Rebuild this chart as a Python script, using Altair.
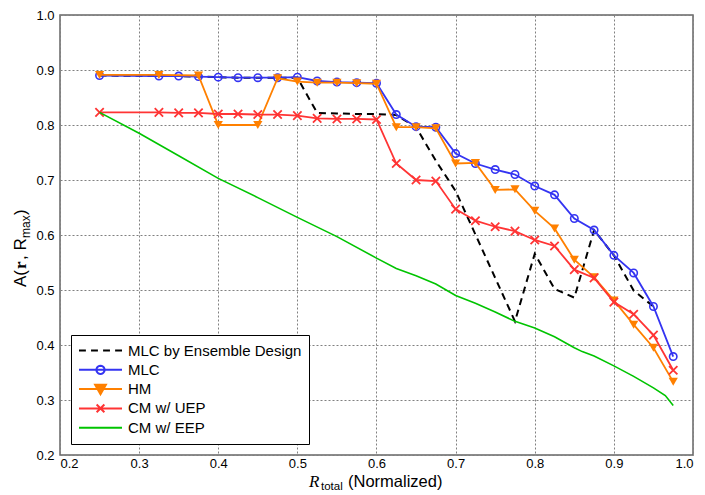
import math
import altair as alt
import pandas as pd

# ---------------- data ----------------
SERIES = ["MLC by Ensemble Design", "MLC", "HM", "CM w/ UEP", "CM w/ EEP"]
COLORS = ["#000000", "#3434f2", "#ff8000", "#ff3434", "#00c400"]

ens_x = [0.25, 0.325, 0.35, 0.375, 0.4, 0.425, 0.45, 0.475, 0.5, 0.525, 0.55, 0.575, 0.6,
         0.625, 0.65, 0.675, 0.7, 0.775, 0.8, 0.825, 0.85, 0.875, 0.9, 0.925, 0.95]
ens_y = [0.890, 0.889, 0.889, 0.888, 0.887, 0.886, 0.886, 0.886, 0.886, 0.822, 0.821, 0.820, 0.820,
         0.818, 0.796, 0.735, 0.680, 0.443, 0.566, 0.502, 0.486, 0.609, 0.563, 0.499, 0.470]

mlc_x = [0.25, 0.325, 0.35, 0.375, 0.4, 0.425, 0.45, 0.475, 0.5, 0.525, 0.55, 0.575, 0.6,
         0.625, 0.65, 0.675, 0.7, 0.725, 0.75, 0.775, 0.8, 0.825, 0.85, 0.875, 0.9, 0.925, 0.95, 0.975]
mlc_y = [0.890, 0.889, 0.889, 0.888, 0.887, 0.886, 0.886, 0.886, 0.887, 0.880, 0.878, 0.877, 0.876,
         0.819, 0.797, 0.796, 0.748, 0.730, 0.719, 0.710, 0.689, 0.673, 0.630, 0.609, 0.563, 0.531, 0.470, 0.379]

hm_x = [0.25, 0.325, 0.375, 0.4, 0.45, 0.475, 0.5, 0.525, 0.55, 0.575, 0.6,
        0.625, 0.65, 0.675, 0.7, 0.725, 0.75, 0.775, 0.8, 0.825, 0.85, 0.875, 0.9, 0.925, 0.95, 0.975]
hm_y = [0.891, 0.891, 0.890, 0.800, 0.800, 0.885, 0.879, 0.877, 0.877, 0.876, 0.875,
        0.796, 0.796, 0.794, 0.730, 0.731, 0.682, 0.683, 0.644, 0.612, 0.555, 0.523, 0.481, 0.437, 0.395, 0.333]

uep_x = [0.25, 0.325, 0.35, 0.375, 0.4, 0.425, 0.45, 0.475, 0.5, 0.525, 0.55, 0.575, 0.6,
         0.625, 0.65, 0.675, 0.7, 0.725, 0.75, 0.775, 0.8, 0.825, 0.85, 0.875, 0.9, 0.925, 0.95, 0.975]
uep_y = [0.823, 0.823, 0.822, 0.822, 0.820, 0.820, 0.819, 0.819, 0.817, 0.812, 0.811, 0.811, 0.810,
         0.730, 0.700, 0.698, 0.647, 0.626, 0.615, 0.607, 0.591, 0.580, 0.537, 0.522, 0.478, 0.456, 0.418, 0.354]

eep_x = [0.25, 0.3, 0.35, 0.4, 0.45, 0.5, 0.55, 0.6, 0.625, 0.65, 0.675, 0.7, 0.725, 0.75,
         0.775, 0.8, 0.825, 0.85, 0.86, 0.875, 0.9, 0.925, 0.95, 0.965, 0.975]
eep_y = [0.823, 0.785, 0.744, 0.703, 0.668, 0.632, 0.597, 0.558, 0.539, 0.526, 0.511, 0.490, 0.476, 0.460,
         0.443, 0.431, 0.415, 0.395, 0.388, 0.380, 0.362, 0.343, 0.322, 0.308, 0.290]

x_ticks = [0.2, 0.3, 0.4, 0.5, 0.6, 0.7, 0.8, 0.9, 1.0]
y_ticks = [0.2, 0.3, 0.4, 0.5, 0.6, 0.7, 0.8, 0.9, 1.0]

rows = []
for name, xs, ys in [(SERIES[0], ens_x, ens_y), (SERIES[1], mlc_x, mlc_y), (SERIES[2], hm_x, hm_y),
                     (SERIES[3], uep_x, uep_y), (SERIES[4], eep_x, eep_y)]:
    for a, b in zip(xs, ys):
        rows.append({"x": a, "y": b, "series": name})
df = pd.DataFrame(rows)

# ---------------- legend symbol paths (unit square, scaled by symbolSize) ----------------
def circle_path(r, n=20):
    pts = [(r * math.cos(2 * math.pi * k / n), r * math.sin(2 * math.pi * k / n)) for k in range(n)]
    return "M" + "L".join(f"{p:.3f},{q:.3f}" for p, q in pts) + "Z"

P_DASH = "M-1,0H-0.68M-0.44,0H-0.12M0.12,0H0.44M0.68,0H1"
P_MLC = "M-1,0H1" + circle_path(0.19)
P_HM = "M-1,0H1M-0.25,-0.2L0.25,-0.2L0,0.24Z"
P_UEP = "M-1,0H1M-0.18,-0.18L0.18,0.18M-0.18,0.18L0.18,-0.18"
P_EEP = "M-1,0H1"
PATHS = [P_DASH, P_MLC, P_HM, P_UEP, P_EEP]
FILLS = ["transparent", "transparent", "#ff8000", "transparent", "transparent"]

FONT = "Liberation Sans"

X = alt.X("x:Q", scale=alt.Scale(domain=[0.2, 1.0], nice=False),
          axis=alt.Axis(values=x_ticks, format=".1f", title=None, labelPadding=2))
Y = alt.Y("y:Q", scale=alt.Scale(domain=[0.2, 1.0], nice=False),
          axis=alt.Axis(values=y_ticks, format=".1f", title=None, labelPadding=6))

base = alt.Chart(df)
layers = []

line_styles = {
    SERIES[0]: dict(strokeWidth=2, strokeDash=[7, 5]),
    SERIES[1]: dict(strokeWidth=1.8),
    SERIES[2]: dict(strokeWidth=1.8),
    SERIES[3]: dict(strokeWidth=1.8),
    SERIES[4]: dict(strokeWidth=1.6),
}
for s, c in zip(SERIES, COLORS):
    sub = base.transform_filter(alt.datum.series == s)
    layers.append(sub.mark_line(color=c, **line_styles[s]).encode(x=X, y=Y))
    if s == "MLC":
        layers.append(sub.mark_point(shape="circle", size=55, strokeWidth=1.6, filled=False,
                                     opacity=1, color=c).encode(x=X, y=Y))
    elif s == "HM":
        layers.append(sub.mark_point(shape="triangle-down", size=85, filled=True,
                                     opacity=1, color=c).encode(x=X, y=Y))
    elif s == "CM w/ UEP":
        layers.append(sub.mark_point(shape="M-1,-1L1,1M-1,1L1,-1", size=70, strokeWidth=1.8,
                                     filled=False, opacity=1, color=c).encode(x=X, y=Y))

legend = alt.Legend(
    orient="none", legendX=11, legendY=320, title=None, padding=7,
    fillColor="white", strokeColor="black", cornerRadius=0,
    labelFont=FONT, labelFontSize=15, labelColor="black", labelLimit=400, labelOffset=5,
    symbolSize=1849, symbolStrokeWidth=2, symbolOpacity=1, clipHeight=17, rowPadding=2.3,
)
legend_df = pd.DataFrame({"series": SERIES, "x": [0.5] * 5, "y": [0.5] * 5})
legend_layer = alt.Chart(legend_df).transform_filter("datum.x > 5").mark_point(
    size=1849, opacity=1).encode(
    x=X, y=Y,
    shape=alt.Shape("series:N", scale=alt.Scale(domain=SERIES, range=PATHS), legend=legend),
    stroke=alt.Stroke("series:N", scale=alt.Scale(domain=SERIES, range=COLORS), legend=legend),
    fill=alt.Fill("series:N", scale=alt.Scale(domain=SERIES, range=FILLS), legend=legend),
)
layers.append(legend_layer)

# ---------------- axis titles as text pieces ----------------
def txt(label, px, py, size, font=FONT, style="normal", weight="normal", angle=0):
    kw = dict(align="left", baseline="alphabetic", fontSize=size, font=font,
              fontStyle=style, fontWeight=weight, color="black")
    if angle:
        kw["angle"] = angle
    return alt.Chart(pd.DataFrame({"t": [label]})).mark_text(**kw).encode(
        text="t:N", x=alt.value(px), y=alt.value(py))

# x title (plot-relative coords: origin at (60,15))
layers.append(txt("R", 249, 472, 17, font="Liberation Serif", style="italic"))
layers.append(txt("total", 261, 475, 11.5))
layers.append(txt("(Normalized)", 288, 472, 16.5))
# y title, rotated
layers.append(txt("A(", -34, 272, 17, angle=270))
layers.append(txt("r", -34, 254, 17, font="Liberation Serif", weight="bold", angle=270))
layers.append(txt(", R", -34, 245, 17, angle=270))
layers.append(txt("max", -30, 223, 12, angle=270))
layers.append(txt(")", -34, 200, 17, angle=270))

chart = alt.layer(*layers).properties(
    width=633, height=440,
    padding={"left": 60, "top": 15, "right": 12, "bottom": 40},
    autosize=alt.AutoSizeParams(type="none"),
).configure_view(
    stroke="#666666", strokeWidth=1.5
).configure_axis(
    domain=False, ticks=False, grid=True, gridColor="#808080", gridDash=[2, 2], gridWidth=1,
    labelFont=FONT, labelFontSize=13, labelColor="black",
)

chart.save("out.html", embed_options={"renderer": "svg", "actions": False})
